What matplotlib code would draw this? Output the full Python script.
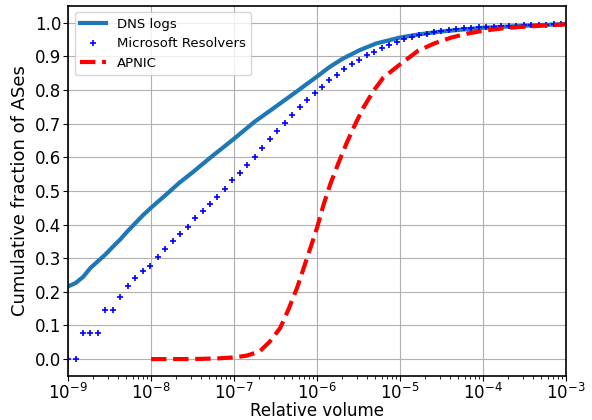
import numpy as np
import matplotlib
matplotlib.use("Agg")
import matplotlib.pyplot as plt

# DNS logs (log10 relative volume, cumulative fraction)
dns_exp = [-9.0, -8.91, -8.82, -8.73, -8.64, -8.55, -8.46, -8.37, -8.28, -8.19, -8.10,
           -8.0, -7.8, -7.66, -7.5, -7.28, -7.0, -6.75, -6.5, -6.22, -6.0, -5.85,
           -5.69, -5.49, -5.29, -5.0, -4.75, -4.5, -4.0, -3.5, -3.0]
dns_val = [0.216, 0.226, 0.244, 0.271, 0.291, 0.311, 0.334, 0.356, 0.381, 0.404, 0.427,
           0.45, 0.493, 0.524, 0.555, 0.60, 0.655, 0.706, 0.750, 0.80, 0.84, 0.868,
           0.893, 0.918, 0.938, 0.956, 0.966, 0.974, 0.985, 0.991, 0.996]

# Microsoft Resolvers
ms_exp = [-9.00, -8.91, -8.82, -8.73, -8.64, -8.55, -8.46, -8.37, -8.28, -8.19, -8.10,
          -8.01, -7.92, -7.83, -7.74, -7.65, -7.56, -7.47, -7.38, -7.29, -7.20, -7.11,
          -7.02, -6.93, -6.84, -6.75, -6.66, -6.57, -6.48, -6.39, -6.30, -6.21, -6.12,
          -6.03, -5.94, -5.85, -5.76, -5.67, -5.58, -5.49, -5.40, -5.31, -5.22, -5.13,
          -5.04, -4.95, -4.86, -4.77, -4.68, -4.59, -4.50, -4.41, -4.32, -4.23, -4.14,
          -4.05, -3.96, -3.87, -3.78, -3.69, -3.60, -3.51, -3.42, -3.33, -3.24, -3.15, -3.06]
ms_val = [0.0, 0.0, 0.078, 0.078, 0.078, 0.146, 0.146, 0.185, 0.217, 0.241, 0.261,
          0.278, 0.303, 0.327, 0.352, 0.372, 0.394, 0.419, 0.439, 0.461, 0.483, 0.506,
          0.531, 0.554, 0.578, 0.601, 0.627, 0.654, 0.679, 0.702, 0.726, 0.750, 0.770,
          0.791, 0.810, 0.830, 0.846, 0.861, 0.876, 0.890, 0.903, 0.914, 0.924, 0.934,
          0.943, 0.952, 0.958, 0.962, 0.967, 0.972, 0.976, 0.979, 0.981, 0.983, 0.985,
          0.986, 0.987, 0.988, 0.989, 0.990, 0.991, 0.992, 0.993, 0.994, 0.994, 0.995, 0.996]

# APNIC
ap_exp = [-8.0, -7.5, -7.2, -7.0, -6.85, -6.69, -6.565, -6.445, -6.345, -6.24, -6.14,
          -6.04, -6.0, -5.92, -5.84, -5.74, -5.64, -5.54, -5.44, -5.32, -5.2, -5.0,
          -4.78, -4.58, -4.38, -4.18, -4.0, -3.77, -3.57, -3.37, -3.0]
ap_val = [0.0, 0.0, 0.002, 0.005, 0.010, 0.023, 0.053, 0.092, 0.147, 0.212, 0.286,
          0.36, 0.39, 0.46, 0.52, 0.584, 0.644, 0.698, 0.748, 0.797, 0.837, 0.876,
          0.917, 0.939, 0.956, 0.968, 0.976, 0.983, 0.987, 0.990, 0.995]

labels = ["DNS logs", "Microsoft Resolvers", "APNIC"]
yticks = [0.0, 0.1, 0.2, 0.3, 0.4, 0.5, 0.6, 0.7, 0.8, 0.9, 1.0]

fig = plt.figure(figsize=(5.92, 4.2), dpi=100)
ax = fig.add_axes([0.115, 0.105, 0.841, 0.881])

ax.plot(10 ** np.array(dns_exp), dns_val, color="#1f77b4", lw=3, label=labels[0])
ax.plot(10 ** np.array(ms_exp), ms_val, linestyle="none", marker="+", color="blue",
        markersize=4.5, markeredgewidth=1.2, label=labels[1])
ax.plot(10 ** np.array(ap_exp), ap_val, color="red", lw=3, linestyle="--", label=labels[2])

ax.set_xscale("log")
ax.set_xlim(1e-9, 1e-3)
ax.set_ylim(-0.05, 1.05)
ax.set_yticks(yticks)
ax.set_yticklabels([f"{t:.1f}" for t in yticks])
ax.grid(True, color="#b0b0b0", linewidth=0.8)
ax.set_axisbelow(True)
ax.tick_params(axis="both", which="major", labelsize=12, pad=1.5)
for sp in ax.spines.values():
    sp.set_linewidth(1.2)
ax.set_xlabel("Relative volume", fontsize=12, labelpad=-1)
ax.set_ylabel("Cumulative fraction of ASes", fontsize=13, labelpad=4)
ax.legend(loc="upper left", fontsize=9.5)

fig.savefig("out.png", dpi=100)
